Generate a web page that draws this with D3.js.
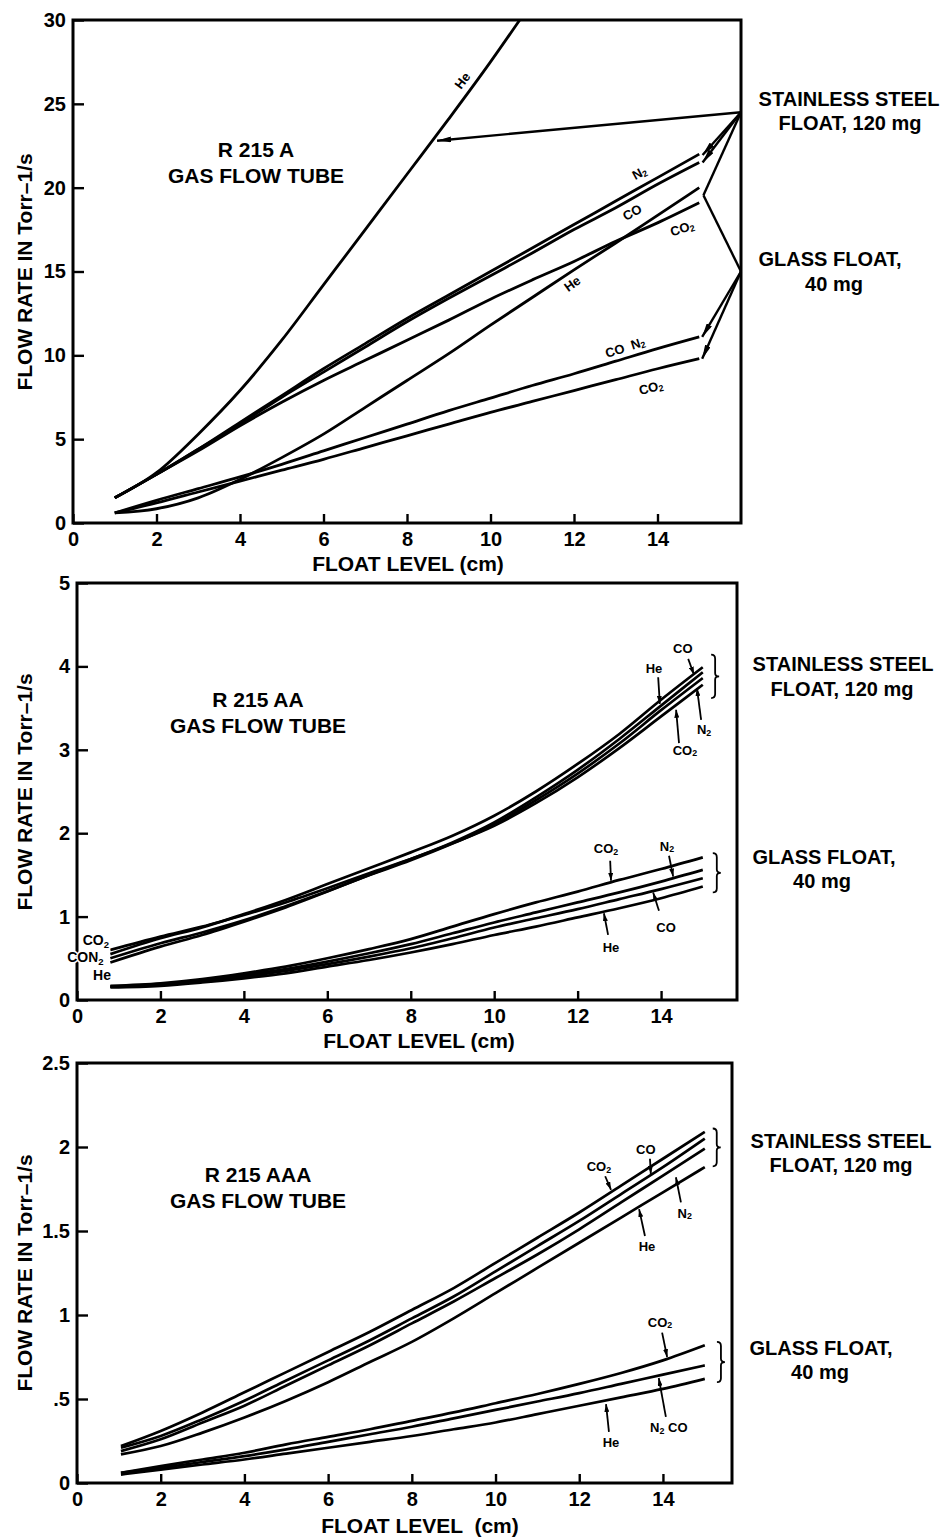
<!DOCTYPE html>
<html><head><meta charset="utf-8">
<script src="https://cdn.jsdelivr.net/npm/d3@7"></script>
<style>
body{margin:0;background:#fff;}
svg text{font-family:"Liberation Sans",Arial,Helvetica,sans-serif;font-weight:bold;fill:#000;}
</style></head><body>
<svg id="chart" width="951" height="1539"></svg>
<script>
// ---------------- DATA ----------------
const xTickValues = [0, 2, 4, 6, 8, 10, 12, 14];
const xTickLabels = ["0", "2", "4", "6", "8", "10", "12", "14"];

const yTicksA = [0, 5, 10, 15, 20, 25, 30];
const yLabelsA = ["0", "5", "10", "15", "20", "25", "30"];
const yTicksAA = [0, 1, 2, 3, 4, 5];
const yLabelsAA = ["0", "1", "2", "3", "4", "5"];
const yTicksAAA = [0, 0.5, 1, 1.5, 2, 2.5];
const yLabelsAAA = ["0", ".5", "1", "1.5", "2", "2.5"];

// R 215 A  (stainless steel float)
const aSteelHe  = [[1,1.5],[2,3.0],[3,5.3],[4,7.9],[5,10.9],[6,14.2],[7,17.5],[8,20.8],[9,24.1],[10,27.5],[10.7,30]];
const aSteelN2  = [[1,1.5],[2,2.9],[3,4.4],[4,6.0],[5,7.6],[6,9.2],[7,10.7],[8,12.2],[9,13.6],[10,15.0],[11,16.4],[12,17.8],[13,19.2],[14,20.6],[15,22.0]];
const aSteelCO  = [[1,1.5],[2,2.9],[3,4.4],[4,5.9],[5,7.5],[6,9.0],[7,10.5],[8,12.0],[9,13.4],[10,14.75],[11,16.1],[12,17.5],[13,18.8],[14,20.2],[15,21.5]];
const aSteelCO2 = [[1,1.5],[2,2.9],[3,4.3],[4,5.8],[5,7.2],[6,8.5],[7,9.7],[8,10.9],[9,12.1],[10,13.35],[11,14.5],[12,15.6],[13,16.8],[14,17.9],[15,19.1]];
// R 215 A  (glass float)
const aGlassHe   = [[1,0.6],[2,0.85],[3,1.5],[4,2.6],[5,3.9],[6,5.3],[7,6.9],[8,8.5],[9,10.1],[10,11.8],[11,13.45],[12,15.1],[13,16.7],[14,18.35],[15,20.0]];
const aGlassCON2 = [[1,0.6],[2,1.35],[3,2.05],[4,2.75],[5,3.5],[6,4.3],[7,5.1],[8,5.9],[9,6.7],[10,7.45],[11,8.2],[12,8.9],[13,9.65],[14,10.4],[15,11.1]];
const aGlassCO2  = [[1,0.6],[2,1.2],[3,1.85],[4,2.5],[5,3.15],[6,3.8],[7,4.5],[8,5.2],[9,5.9],[10,6.6],[11,7.25],[12,7.9],[13,8.55],[14,9.2],[15,9.8]];

// R 215 AA (stainless steel float)
const aaSteelCO2 = [[0.8,.60],[2,.76],[3,.88],[4,1.02],[5,1.17],[6,1.34],[7,1.52],[8,1.69],[9,1.88],[10,2.09],[11,2.36],[12,2.67],[13,3.02],[14,3.40],[15,3.78]];
const aaSteelCO  = [[0.8,.55],[2,.74],[3,.87],[4,1.03],[5,1.20],[6,1.39],[7,1.58],[8,1.77],[9,1.97],[10,2.21],[11,2.50],[12,2.83],[13,3.19],[14,3.60],[15,3.99]];
const aaSteelN2  = [[0.8,.50],[2,.68],[3,.81],[4,.955],[5,1.125],[6,1.305],[7,1.495],[8,1.675],[9,1.875],[10,2.105],[11,2.395],[12,2.715],[13,3.075],[14,3.475],[15,3.86]];
const aaSteelHe  = [[0.8,.45],[2,.64],[3,.78],[4,.94],[5,1.11],[6,1.30],[7,1.50],[8,1.69],[9,1.89],[10,2.13],[11,2.43],[12,2.76],[13,3.13],[14,3.53],[15,3.93]];
// R 215 AA (glass float)
const aaGlassCO2 = [[0.8,.17],[2,.20],[3,.25],[4,.32],[5,.40],[6,.50],[7,.61],[8,.73],[9,.88],[10,1.03],[11,1.17],[12,1.30],[13,1.44],[14,1.57],[15,1.71]];
const aaGlassN2  = [[0.8,.16],[2,.19],[3,.24],[4,.30],[5,.37],[6,.46],[7,.56],[8,.67],[9,.80],[10,.93],[11,1.05],[12,1.17],[13,1.29],[14,1.42],[15,1.56]];
const aaGlassCO  = [[0.8,.16],[2,.18],[3,.23],[4,.28],[5,.35],[6,.43],[7,.52],[8,.62],[9,.74],[10,.87],[11,.98],[12,1.09],[13,1.21],[14,1.33],[15,1.46]];
const aaGlassHe  = [[0.8,.15],[2,.17],[3,.21],[4,.26],[5,.32],[6,.40],[7,.48],[8,.57],[9,.67],[10,.78],[11,.88],[12,.99],[13,1.10],[14,1.22],[15,1.36]];

// R 215 AAA (stainless steel float)
const aaaSteelCO2 = [[1.05,.22],[2,.31],[3,.42],[4,.54],[5,.66],[6,.78],[7,.90],[8,1.03],[9,1.16],[10,1.31],[11,1.46],[12,1.61],[13,1.77],[14,1.93],[15,2.09]];
const aaaSteelCO  = [[1.05,.21],[2,.28],[3,.38],[4,.49],[5,.61],[6,.73],[7,.85],[8,.98],[9,1.11],[10,1.26],[11,1.41],[12,1.56],[13,1.72],[14,1.88],[15,2.05]];
const aaaSteelN2  = [[1.05,.19],[2,.26],[3,.36],[4,.46],[5,.58],[6,.70],[7,.82],[8,.95],[9,1.08],[10,1.22],[11,1.36],[12,1.51],[13,1.67],[14,1.83],[15,1.99]];
const aaaSteelHe  = [[1.05,.17],[2,.22],[3,.30],[4,.39],[5,.49],[6,.60],[7,.72],[8,.84],[9,.98],[10,1.13],[11,1.28],[12,1.43],[13,1.58],[14,1.73],[15,1.88]];
// R 215 AAA (glass float)
const aaaGlassCO2  = [[1.05,.06],[2,.10],[3,.14],[4,.18],[5,.23],[6,.275],[7,.32],[8,.37],[9,.42],[10,.475],[11,.53],[12,.59],[13,.655],[14,.73],[15,.82]];
const aaaGlassN2CO = [[1.05,.06],[2,.09],[3,.125],[4,.16],[5,.20],[6,.245],[7,.29],[8,.335],[9,.385],[10,.435],[11,.485],[12,.535],[13,.59],[14,.645],[15,.70]];
const aaaGlassHe   = [[1.05,.05],[2,.08],[3,.11],[4,.14],[5,.175],[6,.21],[7,.245],[8,.28],[9,.32],[10,.36],[11,.41],[12,.46],[13,.51],[14,.56],[15,.62]];

// Gas labels (data coordinates): [text, x, y, rotation]
const aLineLabels = [
  ["He", 9.32, 26.4, -53], ["N_2", 13.56, 20.9, -28], ["CO", 13.39, 18.55, -28],
  ["CO_2", 14.59, 17.6, -18], ["He", 11.95, 14.3, -36], ["CO  N_2", 13.22, 10.5, -18],
  ["CO_2", 13.84, 8.1, -14]
];
// Annotation arrows for R 215 A: [fromX, fromY, toX, toY, head]
const aArrows = [
  [16, 24.5, 8.72, 22.8, 1], [16, 24.5, 15.08, 21.95, 1], [16, 24.5, 15.08, 21.5, 1],
  [16, 24.5, 15.1, 19.55, 0], [16, 15.0, 15.1, 19.55, 0],
  [16, 15.0, 15.07, 11.1, 1], [16, 15.0, 15.07, 9.8, 1]
];
// Labels with pointer arrows: [text, labelX, labelY, tailX, tailY, tipX, tipY]
const aaPointers = [
  ["CO", 14.52, 4.22, 14.65, 4.09, 14.79, 3.9], ["He", 13.83, 3.98, 13.93, 3.87, 13.97, 3.55],
  ["N_2", 15.03, 3.25, 14.96, 3.36, 14.86, 3.74], ["CO_2", 14.57, 3.0, 14.43, 3.08, 14.36, 3.48],
  ["CO_2", 12.68, 1.82, 12.78, 1.67, 12.80, 1.43], ["N_2", 14.14, 1.85, 14.19, 1.73, 14.29, 1.48],
  ["CO", 14.12, 0.875, 13.95, 1.07, 13.81, 1.29], ["He", 12.8, 0.64, 12.73, 0.78, 12.63, 1.04]
];
const aaLeftLabels = [["CO_2", 0.45, 0.72], ["CON_2", 0.2, 0.52], ["He", 0.6, 0.30]];
const aaBraces = [[15.2, 4.14, 3.62], [15.24, 1.76, 1.29]];

const aaaPointers = [
  ["CO_2", 12.47, 1.885, 12.62, 1.826, 12.76, 1.745], ["CO", 13.59, 1.99, 13.69, 1.93, 13.71, 1.84],
  ["N_2", 14.52, 1.61, 14.43, 1.67, 14.31, 1.82], ["He", 13.62, 1.41, 13.57, 1.47, 13.43, 1.63],
  ["CO_2", 13.93, 0.96, 13.98, 0.895, 14.1, 0.75], ["N_2 CO", 14.14, 0.334, 14.07, 0.394, 13.9, 0.625],
  ["He", 12.76, 0.245, 12.71, 0.304, 12.64, 0.47]
];
const aaaBraces = [[15.19, 2.11, 1.885], [15.29, 0.84, 0.6]];

// ---------------- DRAWING ----------------
const FONT = '"Liberation Sans", Arial, Helvetica, sans-serif';
const svg = d3.select('#chart');
const defs = svg.append('defs');
defs.append('marker').attr('id', 'big').attr('viewBox', '0 0 14 6').attr('refX', 14).attr('refY', 3)
  .attr('markerWidth', 14).attr('markerHeight', 6).attr('markerUnits', 'userSpaceOnUse').attr('orient', 'auto')
  .append('path').attr('d', 'M0,0 L14,3 L0,6 Z').attr('fill', '#000');
defs.append('marker').attr('id', 'small').attr('viewBox', '0 0 8 5').attr('refX', 8).attr('refY', 2.5)
  .attr('markerWidth', 8).attr('markerHeight', 5).attr('markerUnits', 'userSpaceOnUse').attr('orient', 'auto')
  .append('path').attr('d', 'M0,0 L8,2.5 L0,5 Z').attr('fill', '#000');

function richText(t, str, fs) {
  const parts = str.split(/(_\d)/).filter(p => p.length);
  let lastSub = false;
  parts.forEach(p => {
    if (p[0] === '_') {
      t.append('tspan').attr('font-size', fs * 0.68).attr('dy', fs * 0.28).text(p.slice(1));
      lastSub = true;
    } else {
      const ts = t.append('tspan').text(p);
      if (lastSub) { ts.attr('dy', -fs * 0.28); lastSub = false; }
    }
  });
}

function bracePath(x, y0, y1, w) {
  const ym = (y0 + y1) / 2;
  return `M${x},${y0} Q${x + w},${y0} ${x + w},${y0 + w} L${x + w},${ym - w * 0.8} Q${x + w},${ym} ${x + 2 * w},${ym}` +
         ` Q${x + w},${ym} ${x + w},${ym + w * 0.8} L${x + w},${y1 - w} Q${x + w},${y1} ${x},${y1}`;
}

function drawPanel(p) {
  const g = svg.append('g');
  const x = d3.scaleLinear().domain(p.xDomain).range([p.left, p.right]);
  const y = d3.scaleLinear().domain(p.yDomain).range([p.bottom, p.top]);

  const styleAxis = s => {
    s.select('.domain').remove();
    s.attr('font-family', FONT).attr('font-size', 20).attr('font-weight', 'bold');
    s.selectAll('line').attr('stroke', '#000').attr('stroke-width', 2.4);
    s.selectAll('text').attr('fill', '#000');
  };
  g.append('g').attr('transform', `translate(${p.left},0)`)
    .call(d3.axisLeft(y).tickValues(p.yTicks).tickFormat((d, i) => p.yLabels[i]).tickSize(-11).tickPadding(7))
    .call(styleAxis);
  g.append('g').attr('transform', `translate(0,${p.bottom})`)
    .call(d3.axisBottom(x).tickValues(xTickValues).tickFormat((d, i) => xTickLabels[i]).tickSize(-9).tickPadding(9))
    .call(styleAxis);

  // frame
  g.append('rect').attr('x', p.left).attr('y', p.top).attr('width', p.right - p.left).attr('height', p.bottom - p.top)
    .attr('fill', 'none').attr('stroke', '#000').attr('stroke-width', 3);

  // series
  const line = d3.line().x(d => x(d[0])).y(d => y(d[1])).curve(p.curve);
  g.append('g').selectAll('path').data(p.series).join('path')
    .attr('d', d => line(d)).attr('fill', 'none').attr('stroke', '#000')
    .attr('stroke-width', p.lineWidth).attr('stroke-linejoin', 'round').attr('stroke-linecap', 'butt');

  // titles
  p.title.forEach((t, i) => {
    g.append('text').attr('x', p.titleX).attr('y', p.titleY + i * 26).attr('text-anchor', 'middle')
      .attr('font-size', 21).text(t);
  });
  g.append('text').attr('x', p.xTitleX).attr('y', p.xTitleY).attr('text-anchor', 'middle')
    .attr('font-size', 21).attr('xml:space', 'preserve').style('white-space', 'pre').text(p.xTitle);
  g.append('text').attr('transform', `translate(32,${p.yTitleY}) rotate(-90)`).attr('text-anchor', 'middle')
    .attr('font-size', 21).text('FLOW RATE IN Torr\u20131/s');
  p.side.forEach(s => {
    g.append('text').attr('x', s[1]).attr('y', s[2]).attr('text-anchor', 'middle').attr('font-size', 20).text(s[0]);
  });
  return { g, x, y };
}

function pointers(g, x, y, list) {
  list.forEach(d => {
    g.append('line').attr('x1', x(d[3])).attr('y1', y(d[4])).attr('x2', x(d[5])).attr('y2', y(d[6]))
      .attr('stroke', '#000').attr('stroke-width', 1.8).attr('marker-end', 'url(#small)');
    const t = g.append('text').attr('x', x(d[1])).attr('y', y(d[2])).attr('text-anchor', 'middle')
      .attr('dominant-baseline', 'central').attr('font-size', 13);
    richText(t, d[0], 13);
  });
}
function braces(g, x, y, list) {
  list.forEach(b => {
    g.append('path').attr('d', bracePath(x(b[0]), y(b[1]), y(b[2]), 4))
      .attr('fill', 'none').attr('stroke', '#000').attr('stroke-width', 1.8);
  });
}

// ---- Panel R 215 A ----
const pA = drawPanel({
  left: 73, right: 741, top: 20, bottom: 523, xDomain: [0, 16], yDomain: [0, 30],
  yTicks: yTicksA, yLabels: yLabelsA, curve: d3.curveMonotoneX, lineWidth: 2.8,
  series: [aSteelHe, aSteelN2, aSteelCO, aSteelCO2, aGlassHe, aGlassCON2, aGlassCO2],
  title: ['R 215 A', 'GAS FLOW TUBE'], titleX: 256, titleY: 157,
  xTitle: 'FLOAT LEVEL (cm)', xTitleX: 408, xTitleY: 571, yTitleY: 272,
  side: [['STAINLESS STEEL', 849, 106], ['FLOAT, 120 mg', 850, 130], ['GLASS FLOAT,', 830, 266], ['40 mg', 834, 291]]
});
aArrows.forEach(a => {
  pA.g.append('line').attr('x1', pA.x(a[0])).attr('y1', pA.y(a[1])).attr('x2', pA.x(a[2])).attr('y2', pA.y(a[3]))
    .attr('stroke', '#000').attr('stroke-width', 2.4).attr('marker-end', a[4] ? 'url(#big)' : null);
});
aLineLabels.forEach(l => {
  const t = pA.g.append('text').attr('text-anchor', 'middle').attr('dominant-baseline', 'central')
    .attr('font-size', 13).attr('xml:space', 'preserve').style('white-space', 'pre')
    .attr('transform', `translate(${pA.x(l[1])},${pA.y(l[2])}) rotate(${l[3]})`);
  richText(t, l[0], 13);
});

// ---- Panel R 215 AA ----
const pAA = drawPanel({
  left: 77, right: 737, top: 583, bottom: 1000, xDomain: [0, 15.82], yDomain: [0, 5],
  yTicks: yTicksAA, yLabels: yLabelsAA, curve: d3.curveMonotoneX, lineWidth: 2.7,
  series: [aaSteelCO2, aaSteelCO, aaSteelN2, aaSteelHe, aaGlassCO2, aaGlassN2, aaGlassCO, aaGlassHe],
  title: ['R 215 AA', 'GAS FLOW TUBE'], titleX: 258, titleY: 707,
  xTitle: 'FLOAT LEVEL (cm)', xTitleX: 419, xTitleY: 1048, yTitleY: 792,
  side: [['STAINLESS STEEL', 843, 671], ['FLOAT, 120 mg', 842, 696], ['GLASS FLOAT,', 824, 864], ['40 mg', 822, 888]]
});
pointers(pAA.g, pAA.x, pAA.y, aaPointers);
braces(pAA.g, pAA.x, pAA.y, aaBraces);
aaLeftLabels.forEach(l => {
  const t = pAA.g.append('text').attr('x', pAA.x(l[1])).attr('y', pAA.y(l[2])).attr('text-anchor', 'middle')
    .attr('dominant-baseline', 'central').attr('font-size', 14)
    .attr('stroke', '#fff').attr('stroke-width', 3).attr('paint-order', 'stroke');
  richText(t, l[0], 14);
});

// ---- Panel R 215 AAA ----
const pAAA = drawPanel({
  left: 77, right: 732, top: 1063, bottom: 1483, xDomain: [0, 15.65], yDomain: [0, 2.5],
  yTicks: yTicksAAA, yLabels: yLabelsAAA, curve: d3.curveMonotoneX, lineWidth: 2.7,
  series: [aaaSteelCO2, aaaSteelCO, aaaSteelN2, aaaSteelHe, aaaGlassCO2, aaaGlassN2CO, aaaGlassHe],
  title: ['R 215 AAA', 'GAS FLOW TUBE'], titleX: 258, titleY: 1182,
  xTitle: 'FLOAT LEVEL  (cm)', xTitleX: 420, xTitleY: 1533, yTitleY: 1273,
  side: [['STAINLESS STEEL', 841, 1148], ['FLOAT, 120 mg', 841, 1172], ['GLASS FLOAT,', 821, 1355], ['40 mg', 820, 1379]]
});
pointers(pAAA.g, pAAA.x, pAAA.y, aaaPointers);
braces(pAAA.g, pAAA.x, pAAA.y, aaaBraces);
</script>
</body></html>
